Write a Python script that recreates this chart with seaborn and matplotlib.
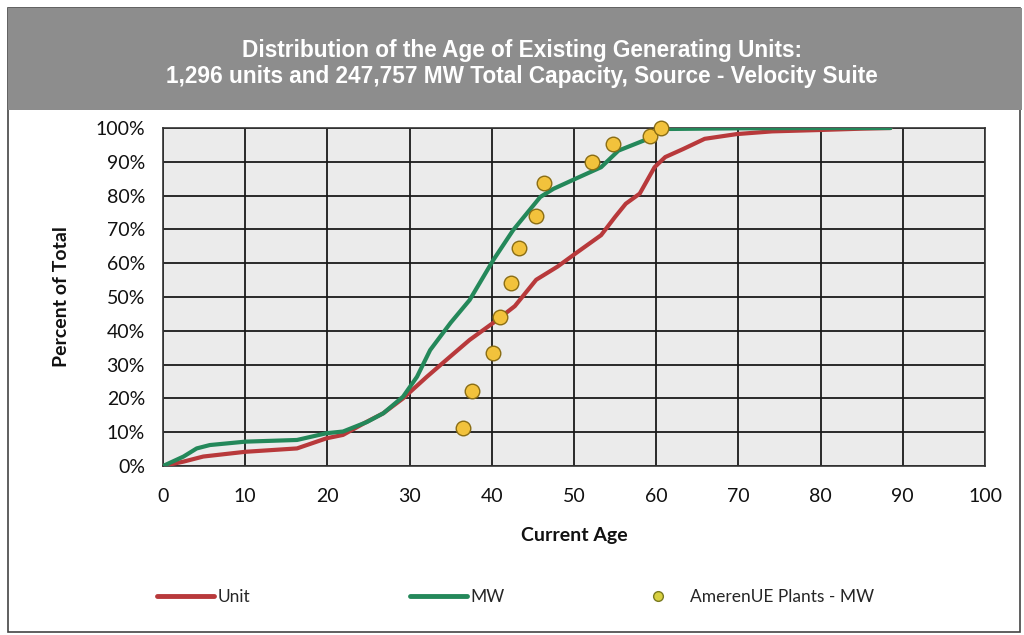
import matplotlib
matplotlib.use("Agg")
import matplotlib.pyplot as plt
import matplotlib.patches as mpatches
from matplotlib.lines import Line2D
import seaborn as sns
import numpy as np

# ---- data ----
unit_age = [0, 2.5, 4.9, 10, 16.3, 19.9, 21.9, 24.8, 26.8, 29.2, 32.1, 35, 37.3, 40.2,
            42.8, 45.4, 48, 50.2, 53.3, 55, 56.3, 58, 59.8, 61.1, 63.3, 65.9, 69.8,
            74.1, 79.8, 85, 88.5]
unit_pct = [0, 1.3, 2.8, 4.2, 5.2, 8.2, 9.2, 13.1, 15.6, 20, 26.4, 32.5, 37.3, 42.4,
            47.3, 55.1, 59, 62.9, 68.3, 73.7, 77.6, 80.6, 88.4, 91.4, 93.8, 96.8, 98.2,
            99, 99.4, 99.8, 100]

mw_age = [0, 2.5, 4.1, 5.7, 10, 16.3, 19.9, 21.9, 24.8, 26.8, 29.2, 30.9, 32.5, 35,
          37.3, 40.2, 42.6, 45.9, 47.5, 50.2, 53.3, 55.4, 58.5, 61.1, 70, 80, 88.5]
mw_pct = [0, 2.8, 5.2, 6.2, 7.2, 7.7, 9.7, 10.2, 13, 15.6, 20.5, 26.4, 34.3, 42.4,
          49.1, 61, 69.8, 79.6, 82, 85, 88.4, 93.3, 96.3, 99.7, 99.9, 100, 100]

plant_age = [36.5, 37.6, 40.1, 41.0, 42.3, 43.3, 45.4, 46.4, 52.2, 54.8, 59.3, 60.6]
plant_pct = [11.2, 22.3, 33.3, 44.2, 54.2, 64.6, 74.1, 83.8, 90.0, 95.3, 97.7, 100.0]

x_ticks = list(range(0, 101, 10))
y_ticks = list(range(0, 101, 10))
y_ticklabels = [f"{v}%" for v in y_ticks]

title_line1 = "Distribution of the Age of Existing Generating Units:"
title_line2 = "1,296 units and 247,757 MW Total Capacity, Source - Velocity Suite"

RED = "#b8393b"
GREEN = "#24885a"
DOT_FACE = "#f2c23c"
DOT_EDGE = "#8a6d14"

sns.set_theme(style="white")
plt.rcParams['font.family'] = ['Lato', 'DejaVu Sans']

fig = plt.figure(figsize=(10.24, 6.35), dpi=100)
W, H = 1024, 635

def fx(px):
    return px / W

def fy(py):
    return 1 - py / H

# outer frame and title band (behind the axes)
fig.patches.append(mpatches.Rectangle((fx(8), fy(632)), fx(1012), (624) / H,
                                      transform=fig.transFigure, facecolor="white",
                                      edgecolor="#444444", lw=1.2, zorder=-3))
fig.patches.append(mpatches.Rectangle((fx(8), fy(110)), fx(1014), 102 / H,
                                      transform=fig.transFigure, facecolor="#8d8d8d",
                                      edgecolor="none", zorder=-2))

title_font = ['Liberation Sans', 'DejaVu Sans']
fig.text(fx(522), fy(51), title_line1, ha="center", va="center", color="white",
         fontsize=16.3, fontweight="bold", family=title_font)
fig.text(fx(522), fy(77), title_line2, ha="center", va="center", color="white",
         fontsize=16.3, fontweight="bold", family=title_font)

ax = fig.add_axes([fx(163), fy(466), fx(985) - fx(163), (466 - 128) / H])
ax.set_facecolor("#ebebeb")

sns.lineplot(x=unit_age, y=unit_pct, ax=ax, color=RED, lw=3.0, zorder=3,
             estimator=None, sort=False)
sns.lineplot(x=mw_age, y=mw_pct, ax=ax, color=GREEN, lw=3.0, zorder=4,
             estimator=None, sort=False)
sns.scatterplot(x=plant_age, y=plant_pct, ax=ax, color=DOT_FACE, edgecolor=DOT_EDGE,
                linewidth=1.0, s=110, zorder=5, clip_on=False)

ax.set_xlim(0, 100)
ax.set_ylim(0, 100)
ax.set_xticks(x_ticks)
ax.set_yticks(y_ticks)
ax.set_yticklabels(y_ticklabels)
ax.grid(True, color="#1a1a1a", lw=1.3)
ax.set_axisbelow(True)
for s in ax.spines.values():
    s.set_color("#333333")
    s.set_linewidth(1.2)
ax.tick_params(axis="both", which="major", length=6, width=1.0, color="#333333",
               labelsize=14, labelcolor="#111111", direction="out")
ax.tick_params(axis="x", pad=10)
ax.tick_params(axis="y", pad=7)
ax.set_xlabel("Current Age", fontsize=14, fontweight="bold", color="#111111",
              labelpad=16)
ax.set_ylabel("Percent of Total", fontsize=14, fontweight="bold", color="#111111",
              labelpad=18)

# legend entries, placed individually as in the reference
entries = [
    (Line2D([], [], color=RED, lw=3.5), "Unit", 157, 3.3, 0.2),
    (Line2D([], [], color=GREEN, lw=3.5), "MW", 410, 3.3, 0.2),
    (Line2D([], [], color="none", marker="o", markerfacecolor="#d8d040",
            markeredgecolor="#7a7a20", markersize=7), "AmerenUE Plants - MW", 648, 1.2, 1.2),
]
for handle, label, xpx, hl, tp in entries:
    lg = fig.legend([handle], [label], loc="center left",
                    bbox_to_anchor=(fx(xpx), fy(597)), frameon=False, fontsize=12.5,
                    handlelength=hl, handletextpad=tp, borderpad=0, borderaxespad=0)

fig.savefig("out.png", dpi=100)
